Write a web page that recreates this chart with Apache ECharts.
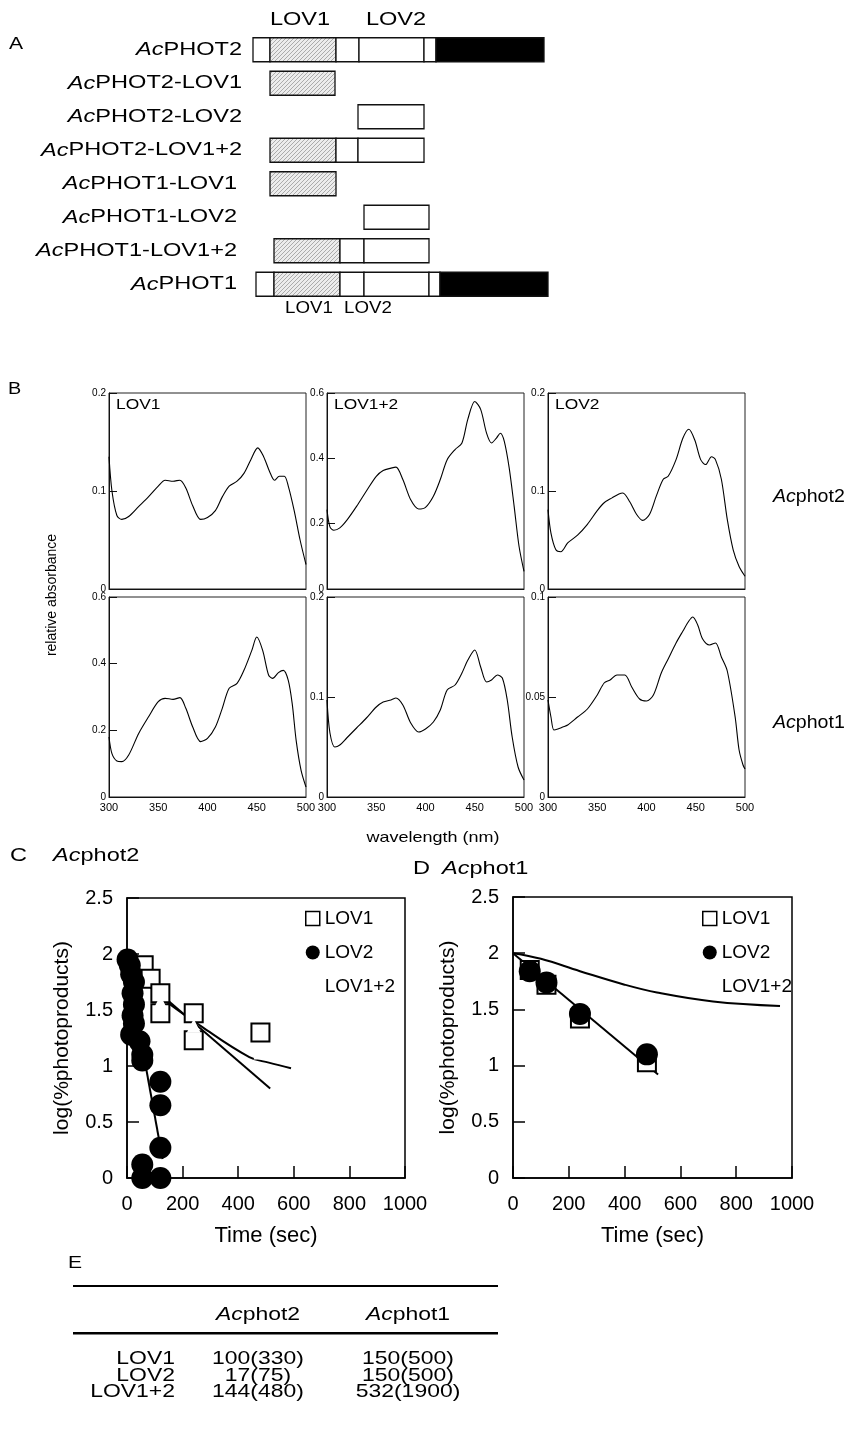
<!DOCTYPE html>
<html>
<head>
<meta charset="utf-8">
<title>AcPHOT LOV domains</title>
<script src="https://cdn.jsdelivr.net/npm/echarts@6.0.0/dist/echarts.min.js"></script>
<style>
    html, body { margin: 0; padding: 0; background: #fff; }
    #main { width: 854px; height: 1433px; }
</style>
</head>
<body>
<div id="main"></div>
<script>
var FONT = '"Liberation Sans", Arial, Helvetica, sans-serif';
var STRETCH = 1.24; // the printed figure is a bit wider than tall

// ---------- A: domain structures ----------
var constructNames = ['AcPHOT2', 'AcPHOT2-LOV1', 'AcPHOT2-LOV2', 'AcPHOT2-LOV1+2',
    'AcPHOT1-LOV1', 'AcPHOT1-LOV2', 'AcPHOT1-LOV1+2', 'AcPHOT1'];
// [start, end, kind]  kind 0 = plain, 1 = LOV1 (hatched), 2 = kinase (black)
var segPhot2       = [[3, 20, 0], [20, 86, 1], [86, 109, 0], [109, 174, 0], [174, 186, 0], [186, 294, 2]];
var segPhot2Lov1   = [[20, 85, 1]];
var segPhot2Lov2   = [[108, 174, 0]];
var segPhot2Lov12  = [[20, 86, 1], [86, 108, 0], [108, 174, 0]];
var segPhot1Lov1   = [[20, 86, 1]];
var segPhot1Lov2   = [[114, 179, 0]];
var segPhot1Lov12  = [[24, 90, 1], [90, 114, 0], [114, 179, 0]];
var segPhot1       = [[6, 24, 0], [24, 90, 1], [90, 114, 0], [114, 179, 0], [179, 190, 0], [190, 298, 2]];
var constructSegments = [segPhot2, segPhot2Lov1, segPhot2Lov2, segPhot2Lov12,
    segPhot1Lov1, segPhot1Lov2, segPhot1Lov12, segPhot1];

// ---------- B: absorption spectra ----------
var wlP2Lov1  = [300,303,308,313,320,330,340,350,357,365,372,378,385,393,400,408,415,422,430,437,444,451,457,463,468,473,478,482,488,494,500];
var absP2Lov1 = [0.135,0.100,0.075,0.071,0.074,0.084,0.094,0.105,0.111,0.110,0.111,0.103,0.085,0.071,0.073,0.080,0.094,0.105,0.110,0.118,0.132,0.144,0.135,0.120,0.111,0.115,0.115,0.105,0.080,0.050,0.025];
var wlP2Lov12  = [300,303,307,313,320,330,340,350,357,365,370,377,385,393,400,408,415,422,430,437,443,450,456,462,467,472,476,480,485,490,495,500];
var absP2Lov12 = [0.243,0.19,0.18,0.187,0.21,0.253,0.30,0.345,0.363,0.37,0.373,0.335,0.273,0.245,0.25,0.284,0.335,0.396,0.427,0.447,0.52,0.574,0.55,0.477,0.447,0.462,0.477,0.452,0.37,0.253,0.13,0.054];
var wlP2Lov2  = [300,303,308,313,320,330,340,350,357,365,372,376,383,390,396,403,410,417,422,430,437,443,449,455,460,466,470,476,482,488,494,500];
var absP2Lov2 = [0.081,0.057,0.040,0.038,0.047,0.055,0.066,0.080,0.088,0.093,0.097,0.098,0.089,0.076,0.070,0.076,0.095,0.112,0.115,0.132,0.154,0.163,0.152,0.132,0.127,0.135,0.132,0.112,0.071,0.040,0.023,0.013];
var wlP1Lov1  = [300,303,308,313,320,330,340,350,357,365,372,378,385,393,400,408,415,422,430,437,445,450,456,462,466,472,477,482,486,490,495,500];
var absP1Lov1 = [0.18,0.13,0.108,0.106,0.126,0.19,0.24,0.286,0.296,0.293,0.298,0.266,0.21,0.166,0.176,0.21,0.266,0.326,0.341,0.38,0.44,0.48,0.44,0.366,0.356,0.373,0.38,0.35,0.28,0.17,0.08,0.03];
var wlP1Lov12  = [300,303,308,313,320,330,340,350,357,365,370,377,385,393,400,408,415,422,430,437,443,450,456,462,467,473,478,483,488,494,500];
var absP1Lov12 = [0.097,0.064,0.05,0.052,0.059,0.069,0.079,0.09,0.095,0.097,0.099,0.092,0.074,0.065,0.068,0.075,0.087,0.107,0.112,0.124,0.137,0.147,0.13,0.115,0.117,0.122,0.119,0.097,0.06,0.03,0.017];
var wlP1Lov2  = [300,303,306,310,315,320,330,340,350,357,363,370,378,385,393,400,407,415,422,430,437,443,447,452,457,464,470,476,482,490,494,498,500];
var absP1Lov2 = [0.0485,0.040,0.0335,0.034,0.035,0.036,0.040,0.044,0.051,0.057,0.0585,0.061,0.061,0.055,0.049,0.048,0.051,0.062,0.069,0.077,0.083,0.088,0.090,0.086,0.079,0.076,0.077,0.070,0.063,0.040,0.0235,0.016,0.014];

var spectraWl  = [wlP2Lov1, wlP2Lov12, wlP2Lov2, wlP1Lov1, wlP1Lov12, wlP1Lov2];
var spectraAbs = [absP2Lov1, absP2Lov12, absP2Lov2, absP1Lov1, absP1Lov12, absP1Lov2];
var spectraMax  = [0.2, 0.6, 0.2, 0.6, 0.2, 0.1];
var spectraStep = [0.1, 0.2, 0.1, 0.2, 0.1, 0.05];
var spectraTitles = ['LOV1', 'LOV1+2', 'LOV2'];

// ---------- C: Acphot2 dark decay, log(%photoproducts) vs time (s) ----------
var cLov1 = [[60,1.9],[85,1.78],[120,1.65],[120,1.47],[240,1.47],[240,1.23],[480,1.3]];
var cLov2 = [[2,1.95],[10,1.9],[15,1.82],[25,1.75],[20,1.65],[25,1.55],[20,1.45],[25,1.38],[15,1.28],[45,1.22],[55,1.1],[55,1.05],[120,0.86],[120,0.65],[120,0.27],[55,0.12],[55,0],[120,0]];
var cLov12 = [[120,1.57],[240,1.36],[480,1.12]];
var cFitLov1 = [[0,1.9],[515,0.8]];
var cFitLov2 = [[0,1.92],[128,0.17]];
var cFitLov12 = [[0,1.93],[120,1.62],[270,1.35],[440,1.08],[510,1.03],[590,0.98]];

// ---------- D: Acphot1 ----------
var dLov1 = [[60,1.85],[120,1.72],[240,1.42],[480,1.03]];
var dLov2 = [[60,1.84],[120,1.74],[240,1.46],[480,1.1]];
var dFitLov = [[0,2.0],[520,0.92]];
var dFitLov12 = [[0,2.0],[100,1.95],[240,1.84],[400,1.72],[516,1.65],[717,1.57],[957,1.53]];

// ---------- E: lifetimes ----------
var tableRowNames = ['LOV1', 'LOV2', 'LOV1+2'];
var tableColNames = ['phot2', 'phot1'];
var lifetimePhot2 = ['100(330)', '17(75)', '144(480)'];
var lifetimePhot1 = ['150(500)', '150(500)', '532(1900)'];

// hatched fill for LOV1 boxes
function hatchCanvas() {
    var c = document.createElement('canvas');
    c.width = 4; c.height = 4;
    var g = c.getContext('2d');
    g.fillStyle = '#ececec';
    g.fillRect(0, 0, 4, 4);
    g.fillStyle = '#ababab';
    for (var i = 0; i < 4; i++) g.fillRect(3 - i, i, 1, 1);
    return c;
}
var domainFills = ['#ffffff', {image: hatchCanvas(), repeat: 'repeat'}, '#000000'];

var domainData = [];
constructSegments.forEach(function (segs, row) {
    segs.forEach(function (s) { domainData.push([row, s[0], s[1], s[2]]); });
});

var chart = echarts.init(document.getElementById('main'), null, {renderer: 'canvas'});

var grids = [], xAxes = [], yAxes = [], series = [], graphics = [];

function richStyle(size) {
    return {
        i: {fontStyle: 'italic', fontSize: size, fontFamily: FONT, fill: '#000'},
        n: {fontSize: size, fontFamily: FONT, fill: '#000'}
    };
}
function txt(x, y, text, size, opts) {
    opts = opts || {};
    graphics.push({
        type: 'text', x: x, y: y, rotation: opts.rotation || 0,
        scaleX: opts.stretch || STRETCH,
        style: {
            text: text, fontSize: size, fontFamily: FONT, fill: '#000',
            align: opts.align || 'left', verticalAlign: 'middle', rich: richStyle(size)
        }
    });
}

// ----- panel A -----
grids.push({left: 250, top: 33, width: 300, height: 268, outerBoundsMode: 'none'});
xAxes.push({gridIndex: 0, type: 'value', min: 0, max: 300, show: false});
yAxes.push({gridIndex: 0, type: 'category', data: constructNames, inverse: true, show: false});
series.push({
    type: 'custom', xAxisIndex: 0, yAxisIndex: 0, data: domainData,
    encode: {x: [1, 2], y: 0},
    renderItem: function (params, api) {
        var row = api.value(0);
        var a = api.coord([api.value(1), row]);
        var b = api.coord([api.value(2), row]);
        var h = 24;
        return {
            type: 'rect',
            shape: {x: a[0], y: a[1] - h / 2, width: b[0] - a[0], height: h},
            style: {fill: domainFills[api.value(3)], stroke: '#111', lineWidth: 1.3}
        };
    }
});
// construct names, drawn at each row's start
series.push({
    type: 'custom', xAxisIndex: 0, yAxisIndex: 0, silent: true,
    data: constructNames.map(function (n, k) { return [0, k]; }),
    encode: {x: 0, y: 1},
    renderItem: function (params, api) {
        var row = api.value(1);
        var p = api.coord([0, row]);
        var name = constructNames[row];
        var gap = name.indexOf('PHOT1') >= 0 ? 13 : 8;
        return {
            type: 'text', x: p[0] - gap, y: p[1], scaleX: STRETCH,
            style: {text: '{i|Ac}{n|' + name.slice(2) + '}', align: 'right', verticalAlign: 'middle',
                fontSize: 19, fontFamily: FONT, fill: '#000', rich: richStyle(19)}
        };
    }
});
txt(300, 20, 'LOV1', 19, {align: 'center'});
txt(396, 20, 'LOV2', 19, {align: 'center'});
txt(309, 308, 'LOV1', 17, {align: 'center', stretch: 1.1});
txt(368, 308, 'LOV2', 17, {align: 'center', stretch: 1.1});
txt(9, 44, 'A', 17);

// ----- panel B -----
var bLefts = [109, 327, 548], bTops = [393, 597], bHeights = [196, 200];
for (var i = 0; i < 6; i++) {
    var row = i < 3 ? 0 : 1, col = i % 3, gi = i + 1;
    grids.push({left: bLefts[col], top: bTops[row], width: 197, height: bHeights[row],
        show: true, borderColor: '#222', borderWidth: 1, outerBoundsMode: 'none'});
    xAxes.push({
        gridIndex: gi, type: 'value', min: 300, max: 500, interval: 50,
        axisLine: {show: true, lineStyle: {color: '#111', width: 1}},
        axisTick: {show: false}, splitLine: {show: false},
        axisLabel: {show: row === 1, fontSize: 11, fontFamily: FONT, color: '#000', margin: 5}
    });
    yAxes.push({
        gridIndex: gi, type: 'value', min: 0, max: spectraMax[i], interval: spectraStep[i],
        axisLine: {show: true, lineStyle: {color: '#111', width: 1}},
        axisTick: {show: true, inside: true, length: 8, lineStyle: {color: '#111'}},
        splitLine: {show: false},
        axisLabel: {fontSize: 10, fontFamily: FONT, color: '#000', margin: 3}
    });
    series.push({
        type: 'line', xAxisIndex: gi, yAxisIndex: gi, showSymbol: false, smooth: 0.3,
        lineStyle: {color: '#000', width: 1.1},
        data: spectraWl[i].map(function (w, k) { return [w, spectraAbs[i][k]]; })
    });
}
spectraTitles.forEach(function (t, k) { txt(bLefts[k] + 7, 405, t, 14); });
txt(8, 390, 'B', 16);
txt(52, 595, 'relative absorbance', 14, {align: 'center', rotation: Math.PI / 2, stretch: 1});
txt(433, 838, 'wavelength (nm)', 14.5, {align: 'center'});
txt(773, 497, '{i|Ac}{n|phot2}', 19, {stretch: 1.03});
txt(773, 723, '{i|Ac}{n|phot1}', 19, {stretch: 1.03});

// ----- panels C and D -----
function decayAxes(gi, left, top, width, height) {
    grids.push({left: left, top: top, width: width, height: height, show: true,
        borderColor: '#000', borderWidth: 1.5, outerBoundsMode: 'none'});
    xAxes.push({
        gridIndex: gi, type: 'value', min: 0, max: 1000, interval: 200,
        name: 'Time (sec)', nameLocation: 'middle', nameGap: 47,
        nameTextStyle: {fontSize: 22, fontFamily: FONT, color: '#000'},
        axisLine: {show: true, lineStyle: {color: '#000', width: 1.5}},
        axisTick: {show: true, inside: true, length: 12, lineStyle: {color: '#000', width: 1.5}},
        splitLine: {show: false},
        axisLabel: {fontSize: 20, fontFamily: FONT, color: '#000', margin: 16,
            formatter: function (v) { return String(v); }}
    });
    yAxes.push({
        gridIndex: gi, type: 'value', min: 0, max: 2.5, interval: 0.5,
        name: 'log(%photoproducts)', nameLocation: 'middle', nameGap: 54, nameRotate: 90,
        nameTextStyle: {fontSize: 21, fontFamily: FONT, color: '#000'},
        axisLine: {show: true, lineStyle: {color: '#000', width: 1.5}},
        axisTick: {show: true, inside: true, length: 12, lineStyle: {color: '#000', width: 1.5}},
        splitLine: {show: false},
        axisLabel: {fontSize: 20, fontFamily: FONT, color: '#000', margin: 14}
    });
}
function fitLine(gi, data, smooth) {
    series.push({type: 'line', name: 'fit', xAxisIndex: gi, yAxisIndex: gi, data: data,
        symbol: 'none', smooth: smooth ? 0.4 : false, z: 2,
        lineStyle: {color: '#000', width: 2}});
}
function points(gi, name, data) {
    var s = {type: 'scatter', name: name, xAxisIndex: gi, yAxisIndex: gi, data: data};
    if (name === 'LOV1') {
        s.symbol = 'rect'; s.symbolSize = 18; s.z = 3;
        s.itemStyle = {color: '#fff', borderColor: '#000', borderWidth: 2, opacity: 1};
    } else if (name === 'LOV2') {
        s.symbol = 'circle'; s.symbolSize = 22; s.z = 4;
        s.itemStyle = {color: '#000', opacity: 1};
    } else {
        // LOV1+2 points are printed white, so they only cut into the other marks
        s.symbol = 'triangle'; s.symbolSize = 14; s.z = 5;
        s.itemStyle = {color: '#fff', borderWidth: 0, opacity: 1};
    }
    series.push(s);
}

decayAxes(7, 127, 898, 278, 280);
fitLine(7, cFitLov1, false);
fitLine(7, cFitLov2, false);
fitLine(7, cFitLov12, true);
points(7, 'LOV1', cLov1);
points(7, 'LOV1+2', cLov12);
points(7, 'LOV2', cLov2);

decayAxes(8, 513, 897, 279, 281);
fitLine(8, dFitLov, false);
fitLine(8, dFitLov12, true);
points(8, 'LOV1', dLov1);
points(8, 'LOV2', dLov2);

txt(10, 856, 'C', 19);
txt(53, 856, '{i|Ac}{n|phot2}', 19);
txt(413, 869, 'D', 19);
txt(442, 869, '{i|Ac}{n|phot1}', 19);

function decayLegend(left) {
    return {
        left: left, top: 909, orient: 'vertical', selectedMode: false, padding: 0,
        itemWidth: 14, itemHeight: 14, itemGap: 15, itemTextGap: 5,
        textStyle: {fontSize: 19, fontFamily: FONT, color: '#000'},
        data: [
            {name: 'LOV1', icon: 'rect', itemStyle: {color: '#fff', borderColor: '#000', borderWidth: 1.5}},
            {name: 'LOV2', icon: 'circle', itemStyle: {color: '#000', borderWidth: 0, opacity: 1}},
            {name: 'LOV1+2', icon: 'rect', itemStyle: {color: 'rgba(0,0,0,0)', borderWidth: 0}}
        ]
    };
}

// ----- panel E -----
txt(68, 1263, 'E', 17);
graphics.push({type: 'rect', shape: {x: 73, y: 1285, width: 425, height: 2}, style: {fill: '#000'}});
graphics.push({type: 'rect', shape: {x: 73, y: 1332, width: 425, height: 2.5}, style: {fill: '#000'}});
var colCenters = [258, 408];
tableColNames.forEach(function (c, k) {
    txt(colCenters[k], 1315, '{i|Ac}{n|' + c + '}', 18.5, {align: 'center'});
});
var rowYs = [1359, 1375.5, 1392];
tableRowNames.forEach(function (r, k) {
    txt(175, rowYs[k], r, 18.5, {align: 'right'});
    txt(colCenters[0], rowYs[k], lifetimePhot2[k], 18.5, {align: 'center'});
    txt(colCenters[1], rowYs[k], lifetimePhot1[k], 18.5, {align: 'center'});
});

chart.setOption({
    animation: false,
    backgroundColor: '#fff',
    textStyle: {fontFamily: FONT},
    grid: grids,
    xAxis: xAxes,
    yAxis: yAxes,
    legend: [decayLegend(305), decayLegend(702)],
    series: series,
    graphic: graphics
});
</script>
</body>
</html>
